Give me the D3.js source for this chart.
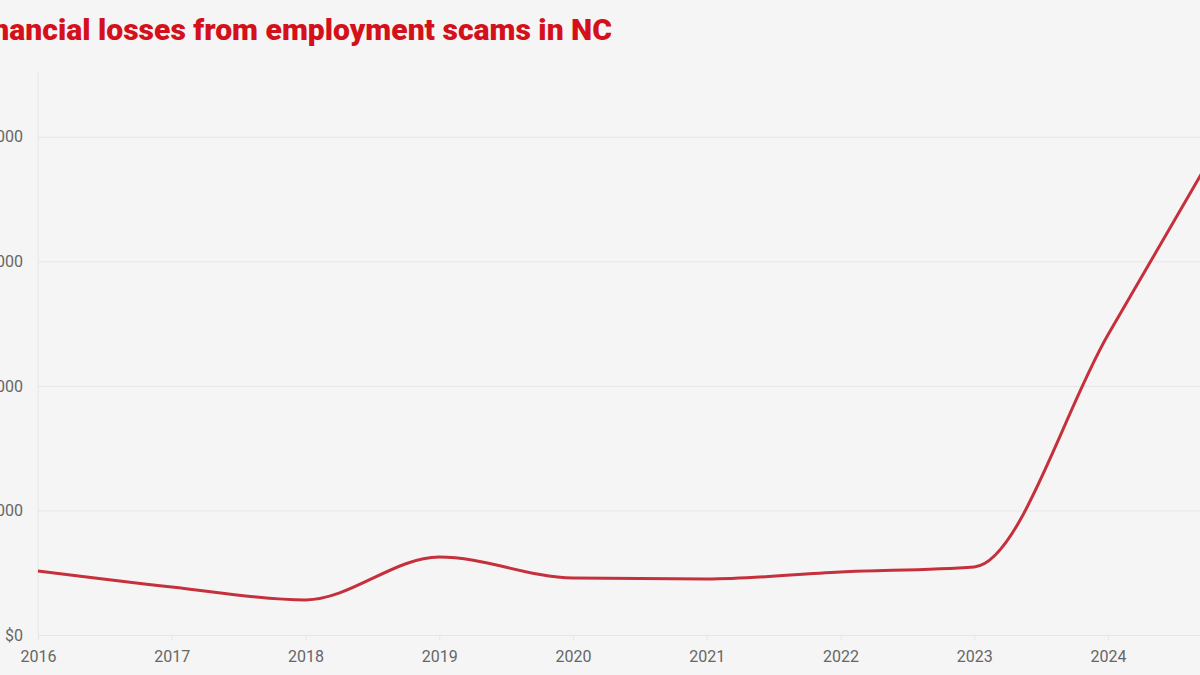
<!DOCTYPE html>
<html>
<head>
<meta charset="utf-8">
<script src="https://cdn.jsdelivr.net/npm/d3@7"></script>
<style>
  html, body { margin: 0; padding: 0; background: #f5f5f5; overflow: hidden; }
  svg { display: block; }
</style>
</head>
<body>
<div id="chart"></div>
<script>
// data
var years = [2016, 2017, 2018, 2019, 2020, 2021, 2022, 2023, 2024, 2025];
var losses = [257000, 193000, 141000, 313000, 229000, 225000, 253000, 273000, 1205000, 2130000];
var yTicks = [0, 500000, 1000000, 1500000, 2000000];
var xTicks = [2016, 2017, 2018, 2019, 2020, 2021, 2022, 2023, 2024, 2025];
var yMax = 2260000;
var title = "Financial losses from employment scams in NC";

var W = 1200, H = 675;
var margin = {top: 72, left: 38, bottom: 40};
var step = 133.75;

var svg = d3.select("#chart")
  .append("svg")
    .attr("width", W)
    .attr("height", H)
    .style("background", "#f5f5f5");

var x = d3.scaleLinear()
  .domain([2016, 2025])
  .range([margin.left, margin.left + step * 9]);

var y = d3.scaleLinear()
  .domain([0, yMax])
  .range([H - margin.bottom, margin.top]);

// title, partly off the left edge like the source
svg.append("text")
  .attr("x", 612)
  .attr("y", 40)
  .attr("text-anchor", "end")
  .style("font-family", "Roboto, sans-serif")
  .style("font-weight", "900")
  .style("font-size", "30.1px")
  .style("fill", "#d4111b")
  .text(title);

// y axis + gridlines
var yAxis = svg.append("g")
  .attr("transform", "translate(" + margin.left + ",0)")
  .call(d3.axisLeft(y)
    .tickValues(yTicks)
    .tickSize(-(W - margin.left + 60))
    .tickPadding(15)
    .tickFormat(function(d) { return "$" + d3.format(",")(d); }));
yAxis.select(".domain").remove();
yAxis.selectAll("line").attr("stroke", "#e6e6e6");
yAxis.selectAll("text")
  .style("font-family", "Roboto, sans-serif")
  .style("font-size", "16px")
  .style("fill", "#666");

// faint vertical axis line
svg.append("line")
  .attr("x1", x(2016)).attr("x2", x(2016))
  .attr("y1", margin.top).attr("y2", y(0))
  .attr("stroke", "#e6e6e6");

// x axis
var xAxis = svg.append("g")
  .attr("transform", "translate(0," + y(0) + ")")
  .call(d3.axisBottom(x)
    .tickValues(xTicks)
    .tickSize(5)
    .tickPadding(11)
    .tickFormat(d3.format("d")));
xAxis.select(".domain").remove();
xAxis.selectAll("line").attr("stroke", "#e6e6e6");
xAxis.selectAll("text")
  .style("font-family", "Roboto, sans-serif")
  .style("font-size", "16px")
  .style("fill", "#666");

// the line
var line = d3.line()
  .x(function(d, i) { return x(years[i]); })
  .y(function(d) { return y(d); })
  .curve(d3.curveMonotoneX);

svg.append("path")
  .datum(losses)
  .attr("d", line)
  .attr("fill", "none")
  .attr("stroke", "#c5303c")
  .attr("stroke-width", 3)
  .attr("stroke-linejoin", "round");
</script>
</body>
</html>
